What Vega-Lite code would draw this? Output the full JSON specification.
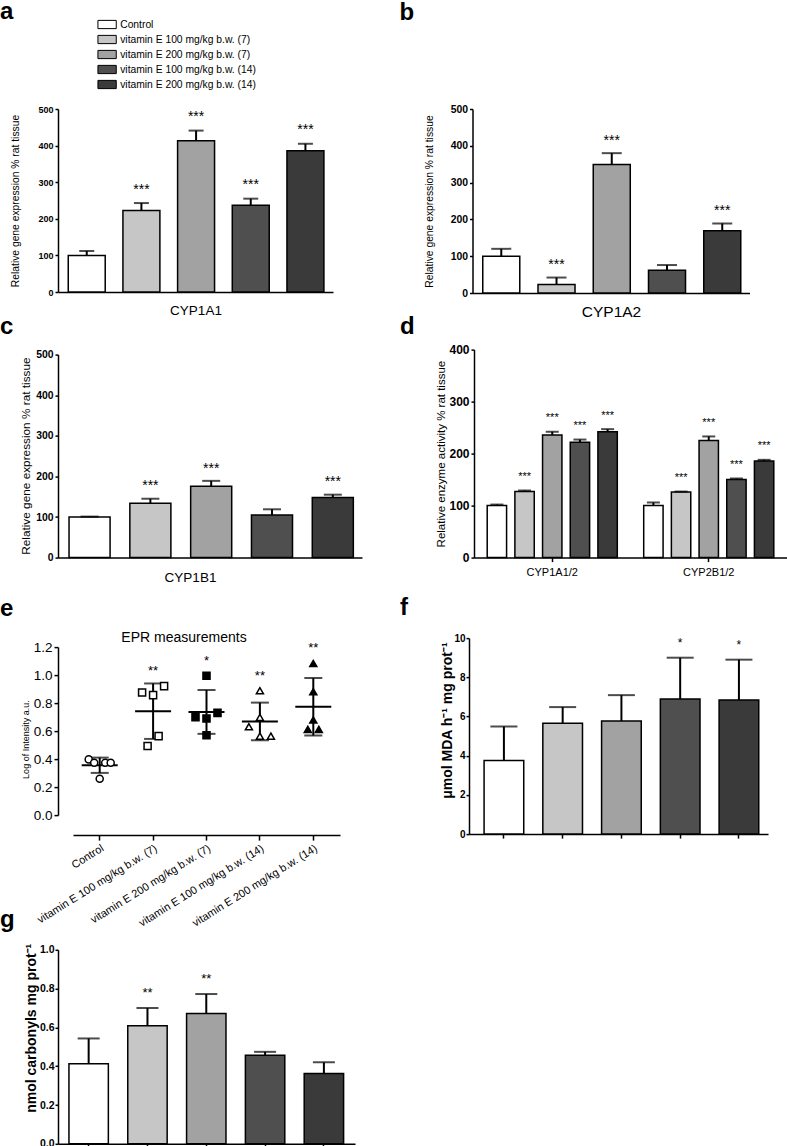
{
  "$schema": "https://vega.github.io/schema/vega-lite/v6.json",
  "padding": 0,
  "background": "white",
  "config": {
    "font": "Liberation Sans",
    "view": {"stroke": null},
    "axis": {"domainColor": "black", "domainWidth": 1.5, "tickColor": "black", "tickWidth": 1.5, "labelColor": "black", "titleColor": "black", "grid": false, "labelFont": "Liberation Sans", "titleFont": "Liberation Sans", "labelOverlap": false},
    "title": {"anchor": "start", "frame": "group", "fontSize": 24, "fontWeight": "bold", "color": "black", "font": "Liberation Sans"},
    "text": {"color": "black"}
  },
  "datasets": {
    "a": [
      {"group": "Control", "mean": 100, "upper": 112, "sig": ""},
      {"group": "vitamin E 100 mg/kg b.w. (7)", "mean": 223, "upper": 243, "sig": "***"},
      {"group": "vitamin E 200 mg/kg b.w. (7)", "mean": 413, "upper": 441, "sig": "***"},
      {"group": "vitamin E 100 mg/kg b.w. (14)", "mean": 237, "upper": 255, "sig": "***"},
      {"group": "vitamin E 200 mg/kg b.w. (14)", "mean": 386, "upper": 405, "sig": "***"}
    ],
    "b": [
      {"group": "Control", "mean": 100, "upper": 120, "sig": ""},
      {"group": "vitamin E 100 mg/kg b.w. (7)", "mean": 23, "upper": 42, "sig": "***"},
      {"group": "vitamin E 200 mg/kg b.w. (7)", "mean": 349, "upper": 380, "sig": "***"},
      {"group": "vitamin E 100 mg/kg b.w. (14)", "mean": 62, "upper": 76, "sig": ""},
      {"group": "vitamin E 200 mg/kg b.w. (14)", "mean": 169, "upper": 189, "sig": "***"}
    ],
    "c": [
      {"group": "Control", "mean": 100, "upper": 101, "sig": ""},
      {"group": "vitamin E 100 mg/kg b.w. (7)", "mean": 134, "upper": 145, "sig": "***"},
      {"group": "vitamin E 200 mg/kg b.w. (7)", "mean": 176, "upper": 189, "sig": "***"},
      {"group": "vitamin E 100 mg/kg b.w. (14)", "mean": 105, "upper": 119, "sig": ""},
      {"group": "vitamin E 200 mg/kg b.w. (14)", "mean": 148, "upper": 155, "sig": "***"}
    ],
    "d": [
      {"enzyme": "CYP1A1/2", "group": "Control", "mean": 100, "upper": 102, "sig": ""},
      {"enzyme": "CYP1A1/2", "group": "vitamin E 100 mg/kg b.w. (7)", "mean": 127, "upper": 129, "sig": "***"},
      {"enzyme": "CYP1A1/2", "group": "vitamin E 200 mg/kg b.w. (7)", "mean": 236, "upper": 242, "sig": "***"},
      {"enzyme": "CYP1A1/2", "group": "vitamin E 100 mg/kg b.w. (14)", "mean": 222, "upper": 227, "sig": "***"},
      {"enzyme": "CYP1A1/2", "group": "vitamin E 200 mg/kg b.w. (14)", "mean": 242, "upper": 247, "sig": "***"},
      {"enzyme": "CYP2B1/2", "group": "Control", "mean": 100, "upper": 106, "sig": ""},
      {"enzyme": "CYP2B1/2", "group": "vitamin E 100 mg/kg b.w. (7)", "mean": 126, "upper": 127, "sig": "***"},
      {"enzyme": "CYP2B1/2", "group": "vitamin E 200 mg/kg b.w. (7)", "mean": 225, "upper": 233, "sig": "***"},
      {"enzyme": "CYP2B1/2", "group": "vitamin E 100 mg/kg b.w. (14)", "mean": 150, "upper": 152, "sig": "***"},
      {"enzyme": "CYP2B1/2", "group": "vitamin E 200 mg/kg b.w. (14)", "mean": 186, "upper": 188, "sig": "***"}
    ],
    "e": [
      {"group": "Control", "value": 0.398, "slot": -2, "sig": ""},
      {"group": "Control", "value": 0.374, "slot": -1, "sig": ""},
      {"group": "Control", "value": 0.26, "slot": 0, "sig": ""},
      {"group": "Control", "value": 0.374, "slot": 1, "sig": ""},
      {"group": "Control", "value": 0.374, "slot": 2, "sig": ""},
      {"group": "vitamin E 100 mg/kg b.w. (7)", "value": 0.876, "slot": -2, "sig": "**"},
      {"group": "vitamin E 100 mg/kg b.w. (7)", "value": 0.493, "slot": -1, "sig": "**"},
      {"group": "vitamin E 100 mg/kg b.w. (7)", "value": 0.857, "slot": 0, "sig": "**"},
      {"group": "vitamin E 100 mg/kg b.w. (7)", "value": 0.564, "slot": 1, "sig": "**"},
      {"group": "vitamin E 100 mg/kg b.w. (7)", "value": 0.921, "slot": 2, "sig": "**"},
      {"group": "vitamin E 200 mg/kg b.w. (7)", "value": 0.70, "slot": -2, "sig": "*"},
      {"group": "vitamin E 200 mg/kg b.w. (7)", "value": 0.995, "slot": 0, "sig": "*"},
      {"group": "vitamin E 200 mg/kg b.w. (7)", "value": 0.69, "slot": 0, "sig": "*"},
      {"group": "vitamin E 200 mg/kg b.w. (7)", "value": 0.57, "slot": 0, "sig": "*"},
      {"group": "vitamin E 200 mg/kg b.w. (7)", "value": 0.73, "slot": 2, "sig": "*"},
      {"group": "vitamin E 100 mg/kg b.w. (14)", "value": 0.631, "slot": -2, "sig": "**"},
      {"group": "vitamin E 100 mg/kg b.w. (14)", "value": 0.888, "slot": 0, "sig": "**"},
      {"group": "vitamin E 100 mg/kg b.w. (14)", "value": 0.698, "slot": 0, "sig": "**"},
      {"group": "vitamin E 100 mg/kg b.w. (14)", "value": 0.564, "slot": 0, "sig": "**"},
      {"group": "vitamin E 100 mg/kg b.w. (14)", "value": 0.564, "slot": 2, "sig": "**"},
      {"group": "vitamin E 200 mg/kg b.w. (14)", "value": 1.083, "slot": 0, "sig": "**"},
      {"group": "vitamin E 200 mg/kg b.w. (14)", "value": 0.881, "slot": 0, "sig": "**"},
      {"group": "vitamin E 200 mg/kg b.w. (14)", "value": 0.679, "slot": 0, "sig": "**"},
      {"group": "vitamin E 200 mg/kg b.w. (14)", "value": 0.612, "slot": -1, "sig": "**"},
      {"group": "vitamin E 200 mg/kg b.w. (14)", "value": 0.612, "slot": 1, "sig": "**"}
    ],
    "f": [
      {"group": "Control", "mean": 3.76, "upper": 5.49, "sig": ""},
      {"group": "vitamin E 100 mg/kg b.w. (7)", "mean": 5.66, "upper": 6.48, "sig": ""},
      {"group": "vitamin E 200 mg/kg b.w. (7)", "mean": 5.77, "upper": 7.09, "sig": ""},
      {"group": "vitamin E 100 mg/kg b.w. (14)", "mean": 6.89, "upper": 9.0, "sig": "*"},
      {"group": "vitamin E 200 mg/kg b.w. (14)", "mean": 6.84, "upper": 8.9, "sig": "*"}
    ],
    "g": [
      {"group": "Control", "mean": 0.413, "upper": 0.543, "sig": ""},
      {"group": "vitamin E 100 mg/kg b.w. (7)", "mean": 0.609, "upper": 0.70, "sig": "**"},
      {"group": "vitamin E 200 mg/kg b.w. (7)", "mean": 0.672, "upper": 0.772, "sig": "**"},
      {"group": "vitamin E 100 mg/kg b.w. (14)", "mean": 0.456, "upper": 0.474, "sig": ""},
      {"group": "vitamin E 200 mg/kg b.w. (14)", "mean": 0.362, "upper": 0.42, "sig": ""}
    ]
  },
  "spacing": -5.4,
  "resolve": {"scale": {"fill": "independent", "shape": "independent", "xOffset": "independent", "x": "independent", "y": "independent"}, "legend": {"fill": "independent", "shape": "independent"}},
  "vconcat": [
    {
      "hconcat": [
        {
          "width": 275, "height": 183,
          "title": {"text": "a", "dx": -58, "offset": -5},
          "data": {"name": "a"},
          "encoding": {
            "x": {"field": "group", "type": "nominal", "sort": null, "scale": {"type": "band", "paddingInner": 0.324, "paddingOuter": 0.177, "align": 0.53}, "axis": {"labels": false, "ticks": false, "title": "CYP1A1", "titleFontSize": 13.5, "titleFontWeight": "normal", "titlePadding": 11}}
          },
          "layer": [
            {
              "mark": {"type": "bar", "stroke": "black", "strokeWidth": 1.5},
              "encoding": {
                "y": {"field": "mean", "type": "quantitative", "scale": {"domain": [0, 500]}, "axis": {"values": [0, 100, 200, 300, 400, 500], "tickCount": 20, "labelOverlap": false, "title": "Relative gene expression % rat tissue", "titleFontSize": 10.3, "titleFontWeight": "normal", "titleX": -38, "labelFontSize": 9, "labelFontWeight": "bold", "tickSize": 3, "labelPadding": 2}},
                "fill": {"field": "group", "type": "nominal", "scale": {"domain": ["Control", "vitamin E 100 mg/kg b.w. (7)", "vitamin E 200 mg/kg b.w. (7)", "vitamin E 100 mg/kg b.w. (14)", "vitamin E 200 mg/kg b.w. (14)"], "range": ["#ffffff", "#c6c6c6", "#a2a2a2", "#4f4f4f", "#3a3a3a"]},
                  "legend": {"orient": "none", "legendX": 43.6, "legendY": -90, "title": null, "symbolType": "M-2,-0.9H2V0.9H-2Z", "symbolSize": 84, "symbolStrokeColor": "black", "symbolStrokeWidth": 1, "labelFontSize": 10.3, "labelColor": "black", "rowPadding": 2, "labelOffset": 7.6, "labelLimit": 300, "padding": 0}}
              }
            },
            {"mark": {"type": "rule", "strokeWidth": 2, "color": "black"}, "encoding": {"y": {"field": "mean", "type": "quantitative"}, "y2": {"field": "upper"}}},
            {"mark": {"type": "tick", "size": 15, "thickness": 2, "color": "black"}, "encoding": {"y": {"field": "upper", "type": "quantitative"}}},
            {"mark": {"type": "text", "dy": -9.3, "baseline": "alphabetic", "fontSize": 14}, "encoding": {"y": {"field": "upper", "type": "quantitative"}, "text": {"field": "sig"}}}
          ]
        },
        {
          "width": 277, "height": 184,
          "title": {"text": "b", "dx": -73, "offset": 79},
          "data": {"name": "b"},
          "encoding": {
            "x": {"field": "group", "type": "nominal", "sort": null, "scale": {"type": "band", "paddingInner": 0.33, "paddingOuter": 0.172, "align": 0.54}, "axis": {"labels": false, "ticks": false, "title": "CYP1A2", "titleFontSize": 15.5, "titleFontWeight": "normal", "titlePadding": 11.5}}
          },
          "layer": [
            {
              "mark": {"type": "bar", "stroke": "black", "strokeWidth": 1.5},
              "encoding": {
                "y": {"field": "mean", "type": "quantitative", "scale": {"domain": [0, 500]}, "axis": {"values": [0, 100, 200, 300, 400, 500], "tickCount": 20, "labelOverlap": false, "title": "Relative gene expression % rat tissue", "titleFontSize": 10.3, "titleFontWeight": "normal", "titleX": -38, "labelFontSize": 10.4, "labelFontWeight": "bold", "tickSize": 3, "labelPadding": 2}},
                "fill": {"field": "group", "type": "nominal", "scale": {"domain": ["Control", "vitamin E 100 mg/kg b.w. (7)", "vitamin E 200 mg/kg b.w. (7)", "vitamin E 100 mg/kg b.w. (14)", "vitamin E 200 mg/kg b.w. (14)"], "range": ["#ffffff", "#c6c6c6", "#a2a2a2", "#4f4f4f", "#3a3a3a"]}, "legend": null}
              }
            },
            {"mark": {"type": "rule", "strokeWidth": 2, "color": "black"}, "encoding": {"y": {"field": "mean", "type": "quantitative"}, "y2": {"field": "upper"}}},
            {"mark": {"type": "tick", "size": 20, "thickness": 2, "color": "black"}, "encoding": {"y": {"field": "upper", "type": "quantitative"}}},
            {"mark": {"type": "text", "dy": -8.6, "baseline": "alphabetic", "fontSize": 14}, "encoding": {"y": {"field": "upper", "type": "quantitative"}, "text": {"field": "sig"}}}
          ]
        }
      ],
      "spacing": 66.5,
      "resolve": {"scale": {"fill": "independent", "xOffset": "independent"}, "legend": {"fill": "independent"}}
    },
    {
      "spacing": 11.5,
      "resolve": {"scale": {"fill": "independent", "shape": "independent", "xOffset": "independent", "x": "independent", "y": "independent"}, "legend": {"fill": "independent", "shape": "independent"}},
      "vconcat": [
        {
          "hconcat": [
            {
              "width": 304, "height": 208,
              "title": {"text": "c", "dx": -58, "offset": 10.4},
              "data": {"name": "c"},
              "encoding": {
                "x": {"field": "group", "type": "nominal", "sort": null, "scale": {"type": "band", "paddingInner": 0.325, "paddingOuter": 0.162, "align": 0.56}, "axis": {"labels": false, "ticks": false, "title": "CYP1B1", "titleFontSize": 13.5, "titleFontWeight": "normal", "titlePadding": 13, "titleX": 132}}
              },
              "layer": [
                {
                  "mark": {"type": "bar", "stroke": "black", "strokeWidth": 1.5},
                  "encoding": {
                    "y": {"field": "mean", "type": "quantitative", "scale": {"domain": [0, 500], "range": [208, 5]}, "axis": {"values": [0, 100, 200, 300, 400, 500], "tickCount": 20, "labelOverlap": false, "title": "Relative gene expression % rat tissue", "titleFontSize": 11.8, "titleFontWeight": "normal", "titleX": -27, "titleY": 106, "labelFontSize": 10.4, "labelFontWeight": "bold", "tickSize": 3, "labelPadding": 2}},
                    "fill": {"field": "group", "type": "nominal", "scale": {"domain": ["Control", "vitamin E 100 mg/kg b.w. (7)", "vitamin E 200 mg/kg b.w. (7)", "vitamin E 100 mg/kg b.w. (14)", "vitamin E 200 mg/kg b.w. (14)"], "range": ["#ffffff", "#c6c6c6", "#a2a2a2", "#4f4f4f", "#3a3a3a"]}, "legend": null}
                  }
                },
                {"mark": {"type": "rule", "strokeWidth": 2, "color": "black"}, "encoding": {"y": {"field": "mean", "type": "quantitative"}, "y2": {"field": "upper"}}},
                {"mark": {"type": "tick", "size": 18, "thickness": 2, "color": "black"}, "encoding": {"y": {"field": "upper", "type": "quantitative"}}},
                {"mark": {"type": "text", "dy": -8.3, "baseline": "alphabetic", "fontSize": 14}, "encoding": {"y": {"field": "upper", "type": "quantitative"}, "text": {"field": "sig"}}}
              ]
            },
            {
              "width": 313, "height": 208,
              "title": {"text": "d", "dx": -74, "offset": 4.6},
              "data": {"name": "d"},
              "encoding": {
                "x": {"field": "enzyme", "type": "nominal", "sort": null, "scale": {"type": "band", "paddingInner": 0, "paddingOuter": 0}, "axis": {"labelAngle": 0, "labelFontSize": 11, "labelPadding": 5, "tickSize": 4, "title": null}},
                "xOffset": {"field": "group", "type": "nominal", "sort": null, "scale": {"type": "band", "paddingInner": 0.3, "paddingOuter": 0.477}}
              },
              "layer": [
                {
                  "mark": {"type": "bar", "stroke": "black", "strokeWidth": 1.5},
                  "encoding": {
                    "y": {"field": "mean", "type": "quantitative", "scale": {"domain": [0, 400]}, "axis": {"values": [0, 100, 200, 300, 400], "tickCount": 20, "labelOverlap": false, "title": "Relative enzyme activity % rat tissue", "titleFontSize": 11.5, "titleFontWeight": "normal", "titleX": -28, "labelFontSize": 12, "labelFontWeight": "bold", "tickSize": 3, "labelPadding": 2}},
                    "fill": {"field": "group", "type": "nominal", "scale": {"domain": ["Control", "vitamin E 100 mg/kg b.w. (7)", "vitamin E 200 mg/kg b.w. (7)", "vitamin E 100 mg/kg b.w. (14)", "vitamin E 200 mg/kg b.w. (14)"], "range": ["#ffffff", "#c6c6c6", "#a2a2a2", "#4f4f4f", "#3a3a3a"]}, "legend": null}
                  }
                },
                {"mark": {"type": "rule", "strokeWidth": 2, "color": "black"}, "encoding": {"y": {"field": "mean", "type": "quantitative"}, "y2": {"field": "upper"}}},
                {"mark": {"type": "tick", "size": 13, "thickness": 2, "color": "black"}, "encoding": {"y": {"field": "upper", "type": "quantitative"}}},
                {"mark": {"type": "text", "dy": -10.5, "baseline": "alphabetic", "fontSize": 11}, "encoding": {"y": {"field": "upper", "type": "quantitative"}, "text": {"field": "sig"}}}
              ]
            }
          ],
          "spacing": 38,
          "resolve": {"scale": {"fill": "independent", "xOffset": "independent"}, "legend": {"fill": "independent"}}
        },
        {
          "spacing": -21.3,
          "resolve": {"scale": {"fill": "independent", "shape": "independent", "xOffset": "independent", "x": "independent", "y": "independent"}, "legend": {"fill": "independent", "shape": "independent"}},
          "vconcat": [
            {
              "hconcat": [
                {
                  "title": {"text": "e", "dx": -58, "offset": 10.2},
                  "spacing": 0,
                  "resolve": {"scale": {"fill": "independent", "shape": "independent", "xOffset": "independent"}, "legend": {"fill": "independent", "shape": "independent"}},
                  "vconcat": [
                    {
                      "width": 282, "height": 177,
                      "title": {"text": "EPR measurements", "anchor": "middle", "frame": "group", "fontSize": 14, "fontWeight": "normal", "dx": -15, "offset": -6.7},
                      "data": {"name": "e"},
                      "encoding": {
                        "x": {"field": "group", "type": "nominal", "sort": null, "scale": {"type": "band", "paddingInner": 0, "paddingOuter": 0, "range": [15, 282]}, "axis": {"title": null, "labelAngle": -32, "labelAlign": "right", "labelBaseline": "top", "labelFontSize": 11, "labelPadding": 2, "tickSize": 5, "offset": 20, "labelLimit": 300}}
                      },
                      "layer": [
                        {"mark": {"type": "errorbar", "extent": "stdev", "ticks": true, "size": 18, "thickness": 2, "color": "black"}, "encoding": {"y": {"field": "value", "type": "quantitative", "title": "Log of Intensity a.u."}}},
                        {"mark": {"type": "tick", "size": 36, "thickness": 2, "color": "black"}, "encoding": {"y": {"aggregate": "mean", "field": "value", "type": "quantitative", "title": "Log of Intensity a.u."}}},
                        {
                          "mark": {"type": "point", "filled": true, "stroke": "black", "strokeWidth": 1.5, "size": 50, "opacity": 1},
                          "encoding": {
                            "y": {"field": "value", "type": "quantitative", "scale": {"domain": [0, 1.2], "range": [177, 9]}, "axis": {"values": [0, 0.2, 0.4, 0.6, 0.8, 1.0, 1.2], "tickCount": 20, "labelOverlap": false, "format": ".1f", "title": "Log of Intensity a.u.", "titleFontSize": 9, "titleFontWeight": "normal", "titleX": -28, "titleY": 101, "labelFontSize": 13.5, "tickSize": 4, "labelPadding": 2}},
                            "xOffset": {"field": "slot", "type": "ordinal", "scale": {"type": "point", "padding": 0, "domain": [-2, -1, 0, 1, 2], "range": [15.7, 37.7]}},
                            "shape": {"field": "group", "type": "nominal", "scale": {"domain": ["Control", "vitamin E 100 mg/kg b.w. (7)", "vitamin E 200 mg/kg b.w. (7)", "vitamin E 100 mg/kg b.w. (14)", "vitamin E 200 mg/kg b.w. (14)"], "range": ["circle", "square", "square", "triangle-up", "triangle-up"]}, "legend": null},
                            "fill": {"field": "group", "type": "nominal", "scale": {"domain": ["Control", "vitamin E 100 mg/kg b.w. (7)", "vitamin E 200 mg/kg b.w. (7)", "vitamin E 100 mg/kg b.w. (14)", "vitamin E 200 mg/kg b.w. (14)"], "range": ["#ffffff", "#ffffff", "#000000", "#ffffff", "#000000"]}, "legend": null}
                          }
                        },
                        {
                          "transform": [{"aggregate": [{"op": "max", "field": "value", "as": "vmax"}], "groupby": ["group", "sig"]}],
                          "mark": {"type": "text", "dy": -11, "baseline": "alphabetic", "fontSize": 13},
                          "encoding": {"y": {"field": "vmax", "type": "quantitative", "title": "Log of Intensity a.u."}, "text": {"field": "sig"}}
                        }
                      ]
                    }
                  ]
                },
                {
                  "width": 299, "height": 196,
                  "title": {"text": "f", "dx": -69, "offset": 12.75},
                  "data": {"name": "f"},
                  "encoding": {
                    "x": {"field": "group", "type": "nominal", "sort": null, "scale": {"type": "band", "paddingInner": 0.325, "paddingOuter": 0.207, "align": 0.62}, "axis": {"labels": false, "ticks": true, "tickSize": 4, "title": null}}
                  },
                  "layer": [
                    {
                      "mark": {"type": "bar", "stroke": "black", "strokeWidth": 1.5},
                      "encoding": {
                        "y": {"field": "mean", "type": "quantitative", "scale": {"domain": [0, 10]}, "axis": {"values": [0, 2, 4, 6, 8, 10], "tickCount": 20, "format": "d", "labelOverlap": false, "title": "μmol MDA h⁻¹ mg prot⁻¹", "titleFontSize": 14, "titleFontWeight": "bold", "titleX": -15, "titleY": 82, "labelFontSize": 10, "labelFontWeight": "bold", "tickSize": 3, "labelPadding": 1}},
                        "fill": {"field": "group", "type": "nominal", "scale": {"domain": ["Control", "vitamin E 100 mg/kg b.w. (7)", "vitamin E 200 mg/kg b.w. (7)", "vitamin E 100 mg/kg b.w. (14)", "vitamin E 200 mg/kg b.w. (14)"], "range": ["#ffffff", "#c6c6c6", "#a2a2a2", "#4f4f4f", "#3a3a3a"]}, "legend": null}
                      }
                    },
                    {"mark": {"type": "rule", "strokeWidth": 2, "color": "black"}, "encoding": {"y": {"field": "mean", "type": "quantitative"}, "y2": {"field": "upper"}}},
                    {"mark": {"type": "tick", "size": 27, "thickness": 2, "color": "black"}, "encoding": {"y": {"field": "upper", "type": "quantitative"}}},
                    {"mark": {"type": "text", "dy": -11, "baseline": "alphabetic", "fontSize": 12}, "encoding": {"y": {"field": "upper", "type": "quantitative"}, "text": {"field": "sig"}}}
                  ]
                }
              ],
              "spacing": 60,
              "resolve": {"scale": {"fill": "independent", "shape": "independent", "xOffset": "independent"}, "legend": {"fill": "independent", "shape": "independent"}}
            },
            {
              "width": 297, "height": 194,
              "title": {"text": "g", "dx": -58, "offset": 11.3},
              "data": {"name": "g"},
              "encoding": {
                "x": {"field": "group", "type": "nominal", "sort": null, "scale": {"type": "band", "paddingInner": 0.33, "paddingOuter": 0.19, "align": 0.49}, "axis": {"labels": false, "ticks": true, "tickSize": 4, "title": null}}
              },
              "layer": [
                {
                  "mark": {"type": "bar", "stroke": "black", "strokeWidth": 1.5},
                  "encoding": {
                    "y": {"field": "mean", "type": "quantitative", "scale": {"domain": [0, 1]}, "axis": {"values": [0, 0.2, 0.4, 0.6, 0.8, 1.0], "tickCount": 20, "labelOverlap": false, "format": ".1f", "title": "nmol carbonyls mg prot⁻¹", "titleFontSize": 14, "titleFontWeight": "bold", "titleX": -20, "titleY": 78, "labelFontSize": 10.5, "labelFontWeight": "bold", "tickSize": 3, "labelPadding": 1}},
                    "fill": {"field": "group", "type": "nominal", "scale": {"domain": ["Control", "vitamin E 100 mg/kg b.w. (7)", "vitamin E 200 mg/kg b.w. (7)", "vitamin E 100 mg/kg b.w. (14)", "vitamin E 200 mg/kg b.w. (14)"], "range": ["#ffffff", "#c6c6c6", "#a2a2a2", "#4f4f4f", "#3a3a3a"]}, "legend": null}
                  }
                },
                {"mark": {"type": "rule", "strokeWidth": 2, "color": "black"}, "encoding": {"y": {"field": "mean", "type": "quantitative"}, "y2": {"field": "upper"}}},
                {"mark": {"type": "tick", "size": 22, "thickness": 2, "color": "black"}, "encoding": {"y": {"field": "upper", "type": "quantitative"}}},
                {"mark": {"type": "text", "dy": -11.4, "baseline": "alphabetic", "fontSize": 13}, "encoding": {"y": {"field": "upper", "type": "quantitative"}, "text": {"field": "sig"}}}
              ]
            }
          ]
        }
      ]
    }
  ]
}
